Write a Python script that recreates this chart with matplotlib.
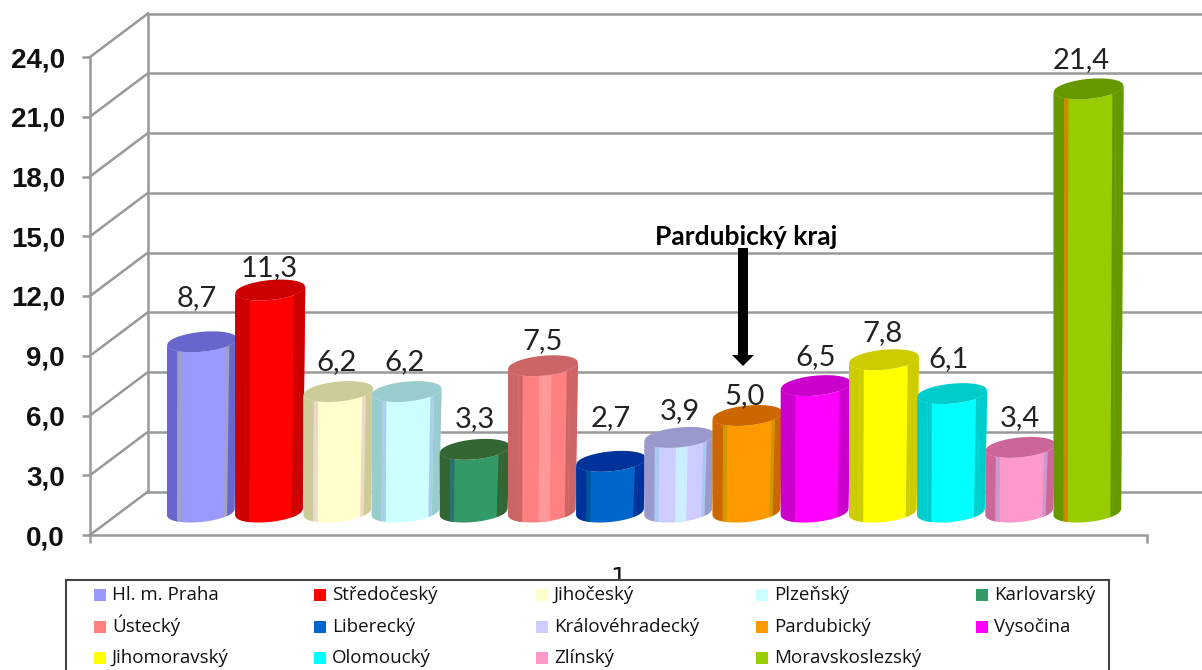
import numpy as np
import matplotlib
matplotlib.use('Agg')
import matplotlib.pyplot as plt
from matplotlib.patches import Rectangle, FancyArrow

############ data to use ############

regions = ['Hl. m. Praha', 'Středočeský', 'Jihočeský', 'Plzeňský', 'Karlovarský',
           'Ústecký', 'Liberecký', 'Královéhradecký', 'Pardubický', 'Vysočina',
           'Jihomoravský', 'Olomoucký', 'Zlínský', 'Moravskoslezský']
values = [8.7, 11.3, 6.2, 6.2, 3.3, 7.5, 2.7, 3.9, 5.0, 6.5, 7.8, 6.1, 3.4, 21.4]
y_ticks = [0, 3, 6, 9, 12, 15, 18, 21, 24]

main_col = ['#9999FF', '#FF0000', '#FFFFCC', '#CCFFFF', '#339966', '#FF8080', '#0066CC',
            '#CCCCFF', '#FF9900', '#FF00FF', '#FFFF00', '#00FFFF', '#FF99CC', '#99CC00']
dark_col = ['#6666CC', '#CC0000', '#CCCC99', '#99CCCC', '#336633', '#CC6666', '#003399',
            '#9999CC', '#CC6600', '#CC00CC', '#CCCC00', '#00CCCC', '#CC6699', '#669900']
edge_col = ['#A0A0C8', '#CC0000', '#F0D8C8', '#A8D0EE', '#2F7070', '#CC6666', '#005599',
            '#A8C8EE', '#CC9900', '#CC00CC', '#CCCC00', '#00CCCC', '#CC99CC', '#CC8800']
right_col = ['#A0A0C8', '#CC0000', '#F0D8C8', '#A8D0EE', '#336633', '#CC6666', '#003399',
             '#A8C8EE', '#CC9900', '#CC00CC', '#CCCC00', '#00CCCC', '#CC99CC', '#669900']
shine_col = [None, None, None, None, None, '#FF9999', None,
             '#CCEEFF', None, None, None, None, None, None]

# label offsets in pixels from the top of each column (placed by hand in the original)
label_dx = [-5, -1, -2, -2, 0, 0, 0, 0, -3, 0, -2, -4, -1, -7]
label_dy = [44, 22, 30, 30, 30, 25, 43, 26, 19, 29, 27, 35, 29, 29]

W, H = 1202, 670
fig = plt.figure(figsize=(W / 100, H / 100), dpi=100)

# front plane of the 3d box, in pixels: x 90-1147, y 535-57
ax = fig.add_axes([90 / W, (H - 535) / H, (1147 - 90) / W, (535 - 57) / H])
x_px = 68.2
y_px = (535 - 57) / 24.0
x_lo = (90 - 202) / x_px
x_hi = (1147 - 202) / x_px
ax.set_xlim(x_lo, x_hi)
ax.set_ylim(0, 24)
ax.patch.set_alpha(0)

grid_col = '#999999'
depth_x = 58 / x_px
depth_y = 43.5 / y_px
for v in y_ticks:
    ax.plot([x_lo, x_lo + depth_x], [v, v + depth_y], color=grid_col, lw=1.8, clip_on=False, zorder=1)
    ax.plot([x_lo + depth_x, x_hi + depth_x], [v + depth_y, v + depth_y], color=grid_col, lw=1.8,
            clip_on=False, zorder=1)
ax.plot([x_lo + depth_x, x_lo + depth_x], [depth_y, 24 + depth_y], color=grid_col, lw=1.8,
        clip_on=False, zorder=1)

for side in ['top', 'right']:
    ax.spines[side].set_visible(False)
for side in ['left', 'bottom']:
    ax.spines[side].set_color(grid_col)
    ax.spines[side].set_linewidth(1.8)

ax.set_yticks(y_ticks)
ax.set_yticklabels([('%.1f' % v).replace('.', ',') for v in y_ticks],
                   fontfamily='Liberation Sans', fontweight='bold', fontsize=20, color='#111111')
ax.tick_params(axis='y', length=6, width=1.8, color=grid_col, pad=12)
ax.set_xticks([x_lo, x_hi])
ax.set_xticklabels(['', ''])
ax.tick_params(axis='x', length=6, width=1.8, color=grid_col)
ax.set_xticks([(x_lo + x_hi) / 2], ['1'], minor=True)
ax.tick_params(axis='x', which='minor', length=0, pad=22, labelsize=18, labelcolor='#111111')

#### cylinders ####
half_w = 35 / x_px
cap_h = 0.5
skew = 0.16
top_off = 1.0
base = 1.15
taper = 0.965


def arc(f, c, sign):
    return c + sign * cap_h * np.sqrt(np.clip(1 - (2 * f - 1)**2, 0, 1)) + skew * (2 * f - 1)


def strip(left, f0, f1, top, color, z):
    f = np.linspace(f0, f1, 30)
    xt = left + f * 2 * half_w
    xb = left + f * 2 * half_w * taper
    xs = np.concatenate([xt, xb[::-1]])
    ys = np.concatenate([arc(f, top, -1), arc(f, base, -1)[::-1]])
    ax.fill(xs, ys, color=color, lw=0, zorder=z, clip_on=False)


for i, v in enumerate(values):
    left = i - half_w
    top = top_off + v
    z = 3 + i * 0.01
    strip(left, 0, 1, top, main_col[i], z)
    strip(left, 0, 0.15, top, dark_col[i], z)
    strip(left, 0.15, 0.21, top, edge_col[i], z)
    strip(left, 0.84, 0.89, top, right_col[i], z)
    strip(left, 0.89, 1, top, dark_col[i], z)
    if shine_col[i]:
        strip(left, 0.45, 0.62, top, shine_col[i], z)
    f = np.linspace(0, 1, 60)
    xs = np.concatenate([left + f * 2 * half_w, left + f[::-1] * 2 * half_w])
    ys = np.concatenate([arc(f, top, -1), arc(f[::-1], top, 1)])
    ax.fill(xs, ys, color=dark_col[i], lw=0, zorder=z, clip_on=False)
    ax.annotate(('%.1f' % v).replace('.', ','), (i, top), xytext=(label_dx[i] * 0.72, label_dy[i] * 0.72),
                textcoords='offset points', ha='center', va='center', fontsize=21,
                fontfamily='Lato', color='#222222', zorder=20, annotation_clip=False)

#### overlay in pixel coords: arrow and legend ####
top_ax = fig.add_axes([0, 0, 1, 1])
top_ax.set_xlim(0, W)
top_ax.set_ylim(H, 0)
top_ax.axis('off')

top_ax.add_patch(FancyArrow(743, 248, 0, 118, width=10, head_width=22, head_length=11,
                            length_includes_head=True, color='black', lw=0))
top_ax.text(746, 237, 'Pardubický kraj', ha='center', va='center', fontsize=19,
            fontfamily='Lato', fontweight='bold', color='black')

top_ax.add_patch(Rectangle((66, 580), 1043, 120, facecolor='white', edgecolor='#444444', lw=1.5))
col_x = [96, 316, 538, 758, 978]
row_y = [595, 627, 658]
for i, name in enumerate(regions):
    x = col_x[i % 5]
    y = row_y[i // 5]
    top_ax.add_patch(Rectangle((x - 2, y - 6), 12, 12, facecolor=main_col[i], edgecolor='none'))
    top_ax.text(x + 16, y + 5, name, ha='left', va='baseline', fontsize=13.5, fontfamily='Open Sans',
                color='#111111')

plt.savefig('out.png', dpi=100)
